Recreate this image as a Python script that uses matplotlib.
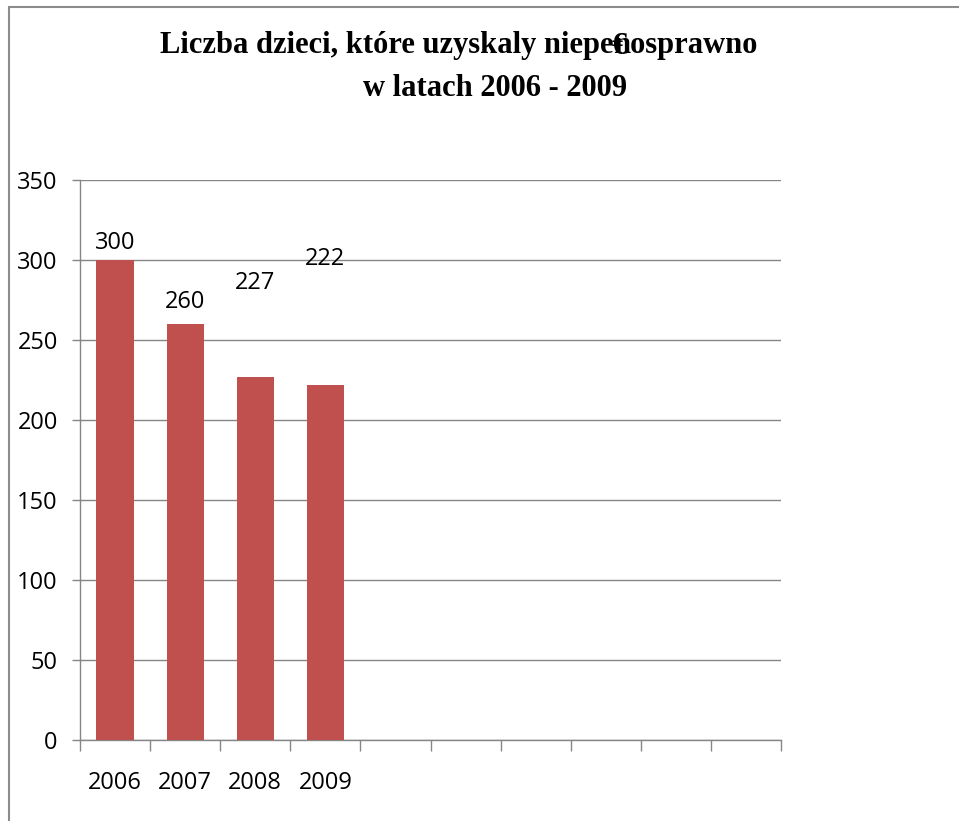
import matplotlib.pyplot as plt
from matplotlib.patches import Rectangle

# dane z wykresu
lata = ["2006", "2007", "2008", "2009"]
liczba_dzieci = [300, 260, 227, 222]
liczba_kategorii = 10
# przesuniecie etykiet nad slupkami (w pikselach), jak w oryginale
przesuniecie_etykiet = [17, 22, 94, 126]

kolor_slupka = "#C0504D"
kolor_siatki = "#868686"
czcionka = ["Open Sans", "DejaVu Sans"]

fig = plt.figure(figsize=(9.59, 8.21), dpi=100)
W, H = 959, 821
ax = fig.add_axes([80 / W, (H - 740) / H, 701 / W, 560 / H])

pozycje = [i + 0.5 for i in range(len(lata))]
ax.bar(pozycje, liczba_dzieci, width=0.53, color=kolor_slupka, zorder=3)

for x, v, dy in zip(pozycje, liczba_dzieci, przesuniecie_etykiet):
    ax.annotate(str(v), (x, v), xytext=(0, dy * 0.72), textcoords="offset points",
                ha="center", va="center", fontsize=17, family=czcionka)

ax.set_xlim(0, liczba_kategorii)
ax.set_ylim(0, 350)
ax.set_yticks(range(0, 351, 50))
ax.set_xticks(range(0, liczba_kategorii + 1))
ax.set_xticklabels([])
ax.set_xticks(pozycje, minor=True)
ax.set_xticklabels(lata, minor=True, fontsize=17, family=czcionka)
ax.tick_params(axis="x", which="major", direction="out", length=8, width=1, color=kolor_siatki)
ax.tick_params(axis="x", which="minor", length=0, pad=22)
ax.tick_params(axis="y", direction="out", length=6, width=1, color=kolor_siatki, pad=10, labelsize=17)
for t in ax.get_yticklabels():
    t.set_family(czcionka)

ax.grid(axis="y", color=kolor_siatki, linewidth=1, zorder=0)
for s in ["top", "right"]:
    ax.spines[s].set_visible(False)
for s in ["left", "bottom"]:
    ax.spines[s].set_color(kolor_siatki)
    ax.spines[s].set_linewidth(1)

# ramka wykresu
fig.patches.append(Rectangle((9 / W, -0.1), 1.2, 1 - 7 / H + 0.1, transform=fig.transFigure,
                             fill=False, edgecolor="#8c8c8c", linewidth=1.5))

# tytul (z nakladajacymi sie znakami jak w oryginale)
tytul_font = dict(family="Liberation Serif", weight="bold", fontsize=22)
fig.canvas.draw()
r = fig.canvas.get_renderer()
czesc1 = "Liczba dzieci, które uzyskaly niepe"
czesc2 = "nosprawno"
t1 = fig.text(0, 1 - 46 / H, czesc1, va="center", ha="left", **tytul_font)
t2 = fig.text(0, 1 - 46 / H, czesc2, va="center", ha="left", **tytul_font)
w1 = t1.get_window_extent(r).width
w2 = t2.get_window_extent(r).width
start = 459 - (w1 + w2) / 2
t1.set_x(start / W)
t2.set_x((start + w1) / W)
fig.text((start + w1 - 2) / W, 1 - 46 / H, "€", va="center", ha="left", **tytul_font)
fig.text(495 / W, 1 - 88 / H, "w latach 2006 - 2009", va="center", ha="center", **tytul_font)

fig.savefig("out.png", dpi=100)
